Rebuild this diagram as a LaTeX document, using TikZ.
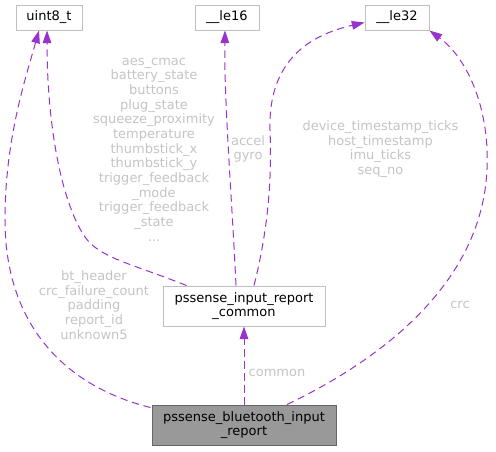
\documentclass[tikz,border=0pt]{standalone}
\usepackage{fontspec}
\setmainfont{DejaVu Sans}
\usetikzlibrary{arrows.meta,calc}
\definecolor{edgec}{HTML}{9A32CD}
\definecolor{lblc}{HTML}{C4C4C4}
\definecolor{bordc}{HTML}{BFBFBF}
\definecolor{mainfill}{HTML}{999999}
\definecolor{mainbord}{HTML}{666666}
\tikzset{
  box/.style={draw=bordc, line width=0.75pt, fill=white, inner sep=0pt, align=center,
    font=\fontsize{9.75pt}{10.9pt}\selectfont, text=black},
  mainbox/.style={box, draw=mainbord, fill=mainfill},
  edge/.style={draw=edgec, line width=0.75pt, dash pattern=on 5.5pt off 3.5pt,
    -{Triangle[length=9.5pt,width=6.5pt,fill=edgec]}},
  lbl/.style={text=lblc, align=center, inner sep=0pt, font=\fontsize{9.75pt}{11pt}\selectfont}
}
\begin{document}
\begin{tikzpicture}[x=0.75pt,y=-0.75pt]
\useasboundingbox (0,0) rectangle (496,451);
\node[box, minimum width=49.5pt, minimum height=18.75pt] (uint) at (49,17.5) {uint8\_t};
\node[box, minimum width=48pt, minimum height=18.75pt] (le16) at (227,17.5) {\_\_le16};
\node[box, minimum width=48pt, minimum height=18.75pt] (le32) at (397,17.5) {\_\_le32};
\node[box, minimum width=121.5pt, minimum height=30pt] (com) at (244,306) {pssense\_input\_report\\\_common};
\node[mainbox, minimum width=138pt, minimum height=30pt] (btr) at (244,425) {pssense\_bluetooth\_input\\\_report};

% bluetooth -> uint8_t
\draw[edge] ($(btr.north west)+(-1,3)$) .. controls (60,385) and (5,320) .. (5,220)
  .. controls (5,140) and (25,80) .. ($(uint.south)+(-10,0)$);
% common -> uint8_t
\draw[edge] ($(com.north west)+(24,0)$) .. controls (130,263) and (100,258) .. (85,237)
  .. controls (60,200) and (47,120) .. ($(uint.south)+(-2,0)$);
% common -> le16
\draw[edge] ($(com.north)+(-8,0)$) .. controls (232,200) and (224,100) .. ($(le16.south)+(-2,0)$);
% common -> le32
\draw[edge] ($(com.north)+(10,0)$) .. controls (268,230) and (272,180) .. (270,130)
  .. controls (268,60) and (310,35) .. ($(le32.west)+(0,5)$);
% bluetooth -> le32
\draw[edge] ($(btr.north)+(43,0)$) .. controls (380,360) and (470,290) .. (485,190)
  .. controls (495,120) and (470,60) .. (le32.south east);
% bluetooth -> common
\draw[edge] (btr.north) -- (com.south);

\node[lbl] (l1) at (94,305) {bt\_header\\crc\_failure\_count\\padding\\report\_id\\unknown5};
\node[lbl] (l2) at (154,149.5) {aes\_cmac\\battery\_state\\buttons\\plug\_state\\squeeze\_proximity\\temperature\\thumbstick\_x\\thumbstick\_y\\trigger\_feedback\\\_mode\\trigger\_feedback\\\_state\\...};
\node[lbl] (l3) at (248,149) {accel\\gyro};
\node[lbl] (l4) at (380.5,149) {device\_timestamp\_ticks\\host\_timestamp\\imu\_ticks\\seq\_no};
\node[lbl] (l5) at (460,305) {crc};
\node[lbl] (l6) at (277,373) {common};
\end{tikzpicture}
\end{document}
